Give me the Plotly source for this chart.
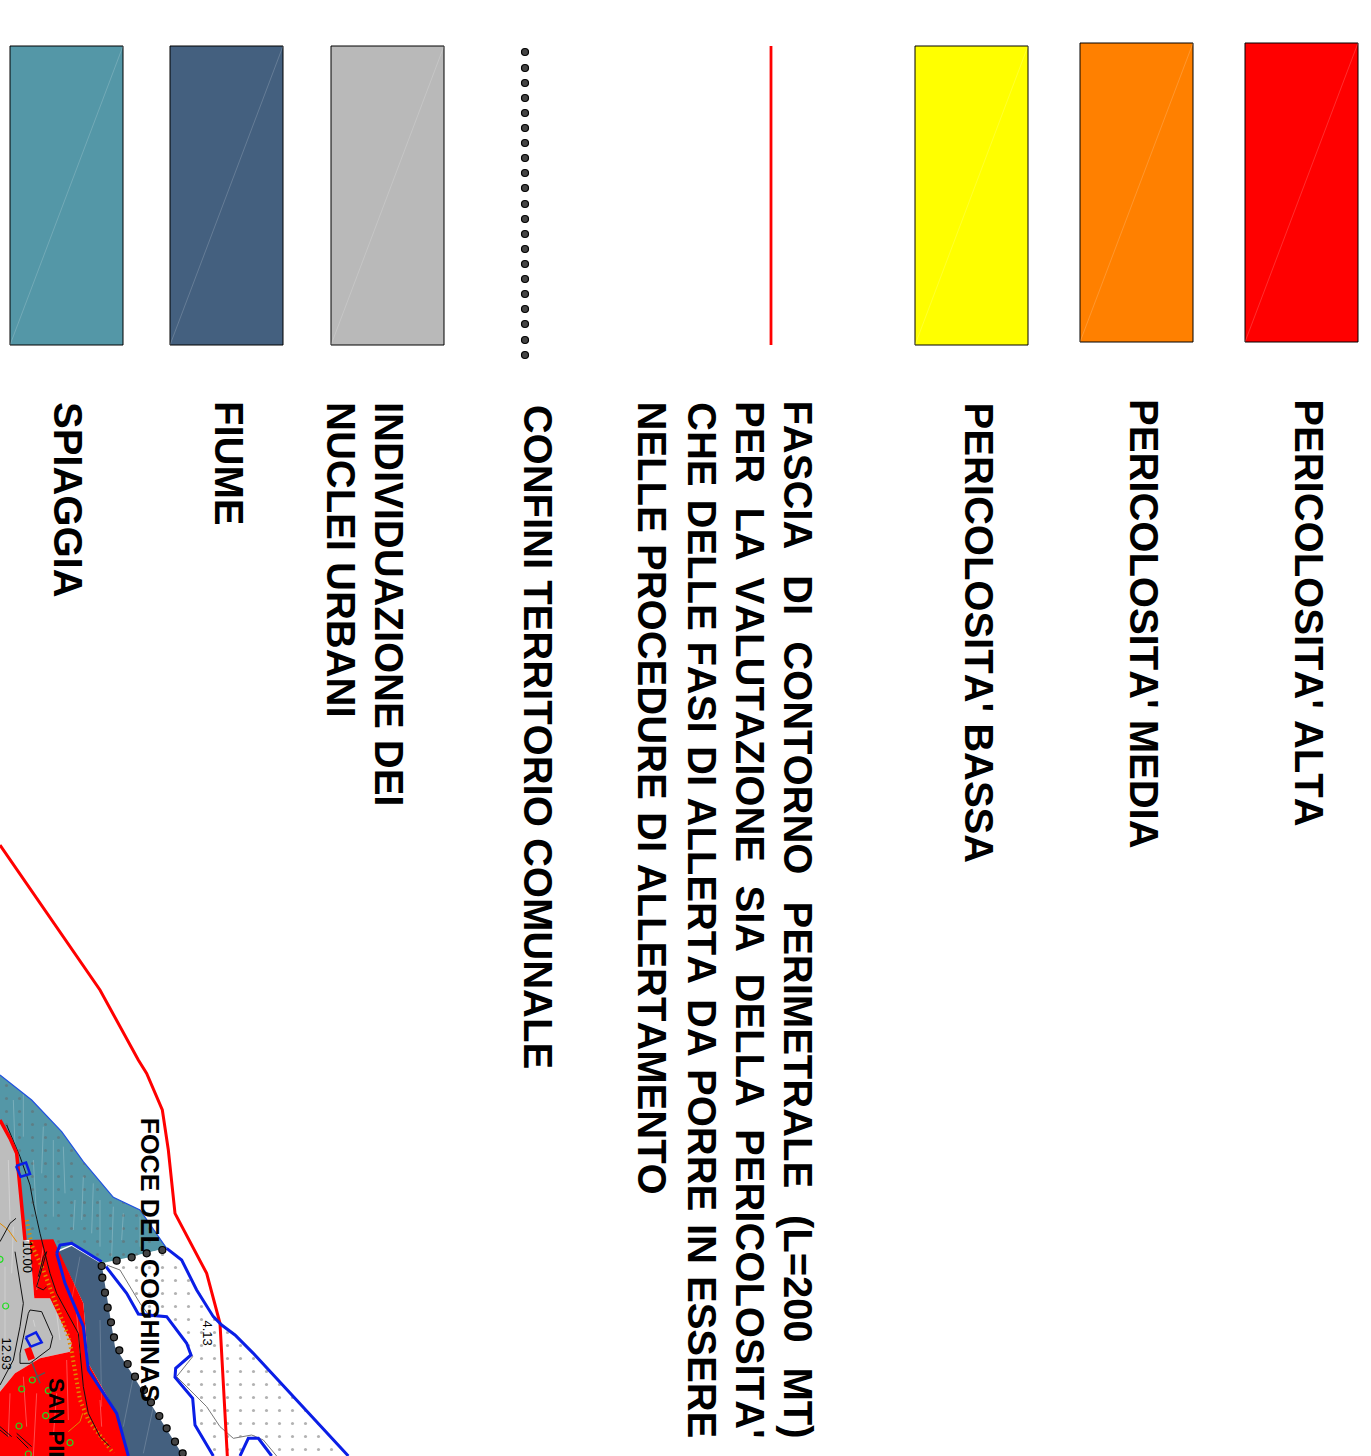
import plotly.graph_objects as go

# ---------- legend ----------
swatch_colors = ["#ff0000", "#ff8000", "#ffff00", "#b9b9b9", "#44607f", "#5497a7"]
swatch_left = [1245, 1080, 915, 331, 170, 10]
swatch_right = [1358, 1193, 1028, 444, 283, 123]
swatch_top = [43, 43, 46, 46, 46, 46]
swatch_bottom = [342, 342, 345, 345, 345, 345]

boundary_x = [525] * 21
boundary_y = [52, 68, 83, 98, 113, 128, 143, 158, 173, 188, 204, 219, 234, 249, 264, 279, 294, 309, 324, 340, 355]
perimeter_x = [771, 771]
perimeter_y = [46, 345]

# (text, x of line centre, y of start)
labels = [
    ("PERICOLOSITA' ALTA", 1309, 404),
    ("PERICOLOSITA' MEDIA", 1144, 400),
    ("PERICOLOSITA' BASSA", 979, 404),
    ("CONFINI TERRITORIO COMUNALE", 538, 405),
    ("INDIVIDUAZIONE DEI", 389, 402),
    ("NUCLEI URBANI", 341, 402),
    ("FIUME", 229, 401),
    ("SPIAGGIA", 68, 402),
    ("FASCIA", 798, 401), ("DI", 798, 575), ("CONTORNO", 798, 641),
    ("PERIMETRALE", 798, 901), ("(L=200", 798, 1215), ("MT)", 798, 1367),
    ("PER", 750, 401), ("LA", 750, 507), ("VALUTAZIONE", 750, 580),
    ("SIA", 750, 885), ("DELLA", 750, 973), ("PERICOLOSITA'", 750, 1130),
    ("CHE", 702, 402), ("DELLE", 702, 499), ("FASI", 702, 642), ("DI", 702, 746),
    ("ALLERTA", 702, 799), ("DA", 702, 999), ("PORRE", 702, 1069), ("IN", 702, 1224), ("ESSERE", 702, 1276),
    ("NELLE", 652, 401), ("PROCEDURE", 652, 544), ("DI", 652, 812), ("ALLERTAMENTO", 652, 865),
]

# ---------- map (image pixels) ----------
def px(pts, y0):
    return [p[0] / 3 for p in pts], [y0 + p[1] / 3 for p in pts]

gray_area = [(0, 180), (50, 280), (75, 540), (88, 545), (103, 715), (150, 715), (215, 850), (210, 875), (120, 895), (45, 940), (0, 995)]
teal_area = [(0, 45), (95, 120), (185, 215), (250, 305), (340, 412), (420, 450), (500, 565), (440, 578), (395, 590),
             (305, 610), (220, 552), (175, 570), (155, 540), (120, 540), (75, 540), (50, 280), (0, 180)]
red_area = [(88, 540), (125, 538), (160, 538), (250, 730), (265, 910), (350, 1060), (385, 1188), (0, 1188), (0, 995),
            (45, 940), (120, 895), (210, 875), (215, 850), (150, 715), (103, 715)]
slate_area = [(175, 575), (215, 558), (305, 612), (345, 860), (550, 1188), (385, 1188), (350, 1060), (265, 910), (250, 730)]
sand_area = [(500, 565), (545, 600), (640, 770), (705, 825), (760, 880), (930, 1065), (1045, 1188), (830, 1188),
             (790, 1140), (755, 1125), (700, 1135), (660, 1100), (620, 1040), (530, 950), (578, 890), (560, 850),
             (500, 770), (450, 770), (420, 730), (360, 630), (320, 615), (395, 590), (440, 578)]
sand2_area = [(640, 1188), (585, 1090), (580, 1020), (525, 950), (530, 950), (620, 1040), (660, 1100), (700, 1135), (745, 1135), (720, 1188)]

outer_red = [(0, -645), (300, -210), (415, 0), (440, 40), (487, 150), (505, 270), (525, 460), (600, 600), (620, 640), (660, 790), (672, 1000), (682, 1188)]
inner_red = [(0, 180), (30, 235), (50, 280), (75, 540)]
blue_a = [(0, 45), (95, 120), (185, 215), (250, 305), (340, 412), (420, 450), (500, 565)]
blue_b = [(500, 565), (545, 600), (590, 690), (640, 770), (665, 795), (705, 825), (760, 880), (930, 1065), (1045, 1188)]
blue_c = [(170, 580), (180, 555), (215, 550), (305, 605)]
blue_d = [(170, 580), (195, 670), (250, 800), (265, 930), (350, 1060), (385, 1188)]
blue_e = [(318, 620), (380, 700), (415, 762), (500, 770), (560, 850), (573, 885), (527, 925), (525, 952), (578, 1015), (585, 1095), (640, 1188)]
blue_f = [(720, 1188), (745, 1135), (775, 1135), (815, 1188)]
thin_gray = [(320, 615), (360, 630), (420, 730), (450, 770), (500, 770), (560, 850), (578, 890), (530, 950), (620, 1040),
             (660, 1100), (700, 1135), (755, 1125), (790, 1140), (830, 1188)]
black_a = [(20, 195), (60, 290), (90, 375), (100, 430), (120, 520), (150, 640), (170, 700), (235, 820), (250, 980), (265, 1060), (300, 1130), (330, 1160)]
black_b = [(45, 575), (70, 730), (60, 800), (40, 900), (0, 975)]
black_c = [(90, 750), (125, 755), (158, 830), (150, 865), (90, 910), (60, 910), (60, 880), (85, 760), (90, 750)]
black_d = [(115, 650), (130, 590), (140, 575), (120, 640), (110, 680), (130, 690), (140, 680)]
black_e = [(0, 545), (30, 490), (48, 475)]
orange_ticks = [(80, 480), (95, 555), (130, 630), (205, 830), (215, 875), (240, 1020), (265, 1080), (340, 1180)]
orange_thin = [(0, 490), (25, 510), (50, 545)]
orange_thin2 = [(205, 1115), (240, 1085), (248, 1060)]
blue_sq_a = [(77, 832), (108, 817), (125, 847), (92, 860), (77, 832)]
red_sq = [(73, 868), (92, 860), (105, 895), (85, 902)]
blue_sq_b = [(48, 318), (78, 308), (90, 342), (62, 350), (48, 318)]
gray_x_a = [(95, 905), (120, 970)]
gray_x_b = [(100, 955), (135, 938)]
rail_a = [(0, 1100), (35, 1130)]
rail_b = [(0, 1110), (25, 1130)]
rail_c = [(50, 1120), (95, 1160)]
rail_d = [(50, 1130), (85, 1165)]
green_x = [0, 17, 97, 65, 145, 137, 57, 210, 85]
green_y = [598, 738, 960, 987, 992, 1067, 1098, 1148, 1182]
big_dot_x = [487, 440, 395, 350, 305, 307, 315, 323, 333, 342, 358, 383, 405, 432, 453, 478, 500, 525, 548]
big_dot_y = [570, 580, 592, 602, 618, 653, 698, 743, 787, 832, 871, 912, 950, 990, 1027, 1068, 1105, 1145, 1180]
streaks_teal = [(70, 100, 70, 230), (130, 200, 125, 340), (190, 260, 195, 400), (250, 350, 245, 480), (300, 420, 300, 560), (370, 460, 365, 540), (100, 300, 110, 480), (225, 420, 220, 510),
                (40, 120, 45, 260), (160, 240, 160, 470), (280, 370, 275, 520), (340, 440, 335, 590), (420, 470, 420, 560)]
streaks_red = [(30, 1000, 25, 1130), (70, 950, 80, 1100), (110, 1000, 100, 1188), (170, 1000, 160, 1130), (200, 900, 205, 1080), (300, 1020, 305, 1100), (130, 560, 110, 690), (230, 760, 240, 880)]
streaks_gray = [(15, 620, 15, 900), (40, 500, 35, 640), (100, 780, 105, 800), (170, 760, 180, 840), (25, 300, 30, 480)]
streaks_slate = [(240, 590, 215, 720), (300, 780, 305, 1040), (400, 950, 370, 1100), (460, 1040, 430, 1180)]

map_labels = [("FOCE DEL COGHINAS", 150, 1118, 26.5, True), ("SAN PIE", 57, 1378, 22, True),
              ("4.13", 207, 1320, 13, False), ("12.93", 6, 1337, 13, False), ("10.00", 27, 1240, 13, False)]

fig = go.Figure()

def line(pts, y0, color, width, dash=None):
    x, y = px(pts, y0)
    fig.add_trace(go.Scatter(x=x, y=y, mode="lines", line=dict(color=color, width=width, dash=dash)))

def area(pts, y0, color, pattern=False):
    x, y = px(pts, y0)
    kw = {}
    if pattern:
        kw["fillpattern"] = dict(shape=".", bgcolor=color, fgcolor="#666666", size=13, solidity=0.045)
    fig.add_trace(go.Scatter(x=x, y=y, mode="lines", fill="toself", fillcolor=color, line=dict(width=0), **kw))

def streaks(rows, color):
    x, y = [], []
    for a, b, c, d in rows:
        x += [a / 3, c / 3, None]
        y += [1060 + b / 3, 1060 + d / 3, None]
    fig.add_trace(go.Scatter(x=x, y=y, mode="lines", line=dict(color=color, width=1)))

# map fills
area(gray_area, 1060, "#bdbdbd")
area(teal_area, 1060, "#5497a7", pattern=True)
area(slate_area, 1060, "#44607f")
area(red_area, 1060, "#ff0000")
area(sand_area, 1060, "#ffffff", pattern=True)
area(sand2_area, 1060, "#ffffff", pattern=True)
streaks(streaks_teal, "rgba(255,255,255,0.22)")
streaks(streaks_red, "rgba(255,255,255,0.3)")
streaks(streaks_gray, "rgba(255,255,255,0.3)")
streaks(streaks_slate, "rgba(255,255,255,0.18)")

# map lines
line(thin_gray, 1060, "#777777", 1)
line(orange_ticks, 1060, "#e08a00", 4, "1.5px,3px")
line(orange_thin, 1060, "#e08a00", 1)
line(orange_thin2, 1060, "#e08a00", 1)
for s in (black_a, black_b, black_c, black_d, black_e, rail_a, rail_b, rail_c, rail_d):
    line(s, 1060, "#111111", 1)
line(gray_x_a, 1060, "#555555", 1.5)
line(gray_x_b, 1060, "#555555", 1.5)
line(inner_red, 1060, "#ff0000", 3.5)
line(outer_red, 1060, "#ff0000", 3)
line(blue_a, 1060, "#1e50e0", 1.2)
for s in (blue_b, blue_c, blue_d, blue_e, blue_f):
    line(s, 1060, "#0a1ee6", 3)
line(blue_sq_a, 1060, "#0a1ee6", 2.5)
line(blue_sq_b, 1060, "#0a1ee6", 2.5)
area(red_sq, 1060, "#ff0000")
gx, gy = px(list(zip(green_x, green_y)), 1060)
fig.add_trace(go.Scatter(x=gx, y=gy, mode="markers",
                         marker=dict(symbol="circle-open", size=6, color="#22dd22", line=dict(width=1.2))))
bx, by = px(list(zip(big_dot_x, big_dot_y)), 1060)
fig.add_trace(go.Scatter(x=bx, y=by, mode="markers",
                         marker=dict(size=7, color="#444444", line=dict(color="#000000", width=1.2))))

for c, l, r, t, b in zip(swatch_colors, swatch_left, swatch_right, swatch_top, swatch_bottom):
    fig.add_trace(go.Scatter(x=[l, r, r, l, l], y=[t, t, b, b, t], mode="lines", fill="toself", fillcolor=c,
                             line=dict(color="#000000", width=1)))
    fig.add_trace(go.Scatter(x=[l, r], y=[b, t], mode="lines", line=dict(color="rgba(255,255,255,0.18)", width=1)))
fig.add_trace(go.Scatter(x=perimeter_x, y=perimeter_y, mode="lines", line=dict(color="#ff0000", width=2.8)))
fig.add_trace(go.Scatter(x=boundary_x, y=boundary_y, mode="markers",
                         marker=dict(size=7, color="#444444", line=dict(color="#000000", width=1.2))))

annots = []
for t, x, y in labels:
    annots.append(dict(x=x, y=y, text=t, textangle=90, showarrow=False, xanchor="center", yanchor="top", borderpad=0, borderwidth=0,
                       font=dict(family="Liberation Sans", size=40, color="#000000", weight=700), xref="x", yref="y"))
for t, x, y, s, bold in map_labels:
    annots.append(dict(x=x, y=y, text=t, textangle=90, showarrow=False, xanchor="center", yanchor="top", borderpad=0, borderwidth=0,
                       font=dict(family="Liberation Sans", size=s, color="#000000", weight=700 if bold else 400), xref="x", yref="y"))

fig.update_traces(showlegend=False, hoverinfo="skip")
fig.update_layout(width=1371, height=1456, margin=dict(l=0, r=0, t=0, b=0), paper_bgcolor="white", plot_bgcolor="white",
                  xaxis=dict(visible=False, range=[0, 1371], fixedrange=True),
                  yaxis=dict(visible=False, range=[1456, 0], fixedrange=True),
                  annotations=annots, showlegend=False)
post = """
document.body.style.margin='0';
document.documentElement.style.overflow='hidden';
var st=document.createElement('style');
st.textContent='svg text{font-kerning:none !important;}';
document.head.appendChild(st);
var gd=document.getElementById('{plot_id}');
Plotly.relayout(gd,{'title.text':''});
"""
fig.write_html("out.html", config=dict(displayModeBar=False), post_script=post)
